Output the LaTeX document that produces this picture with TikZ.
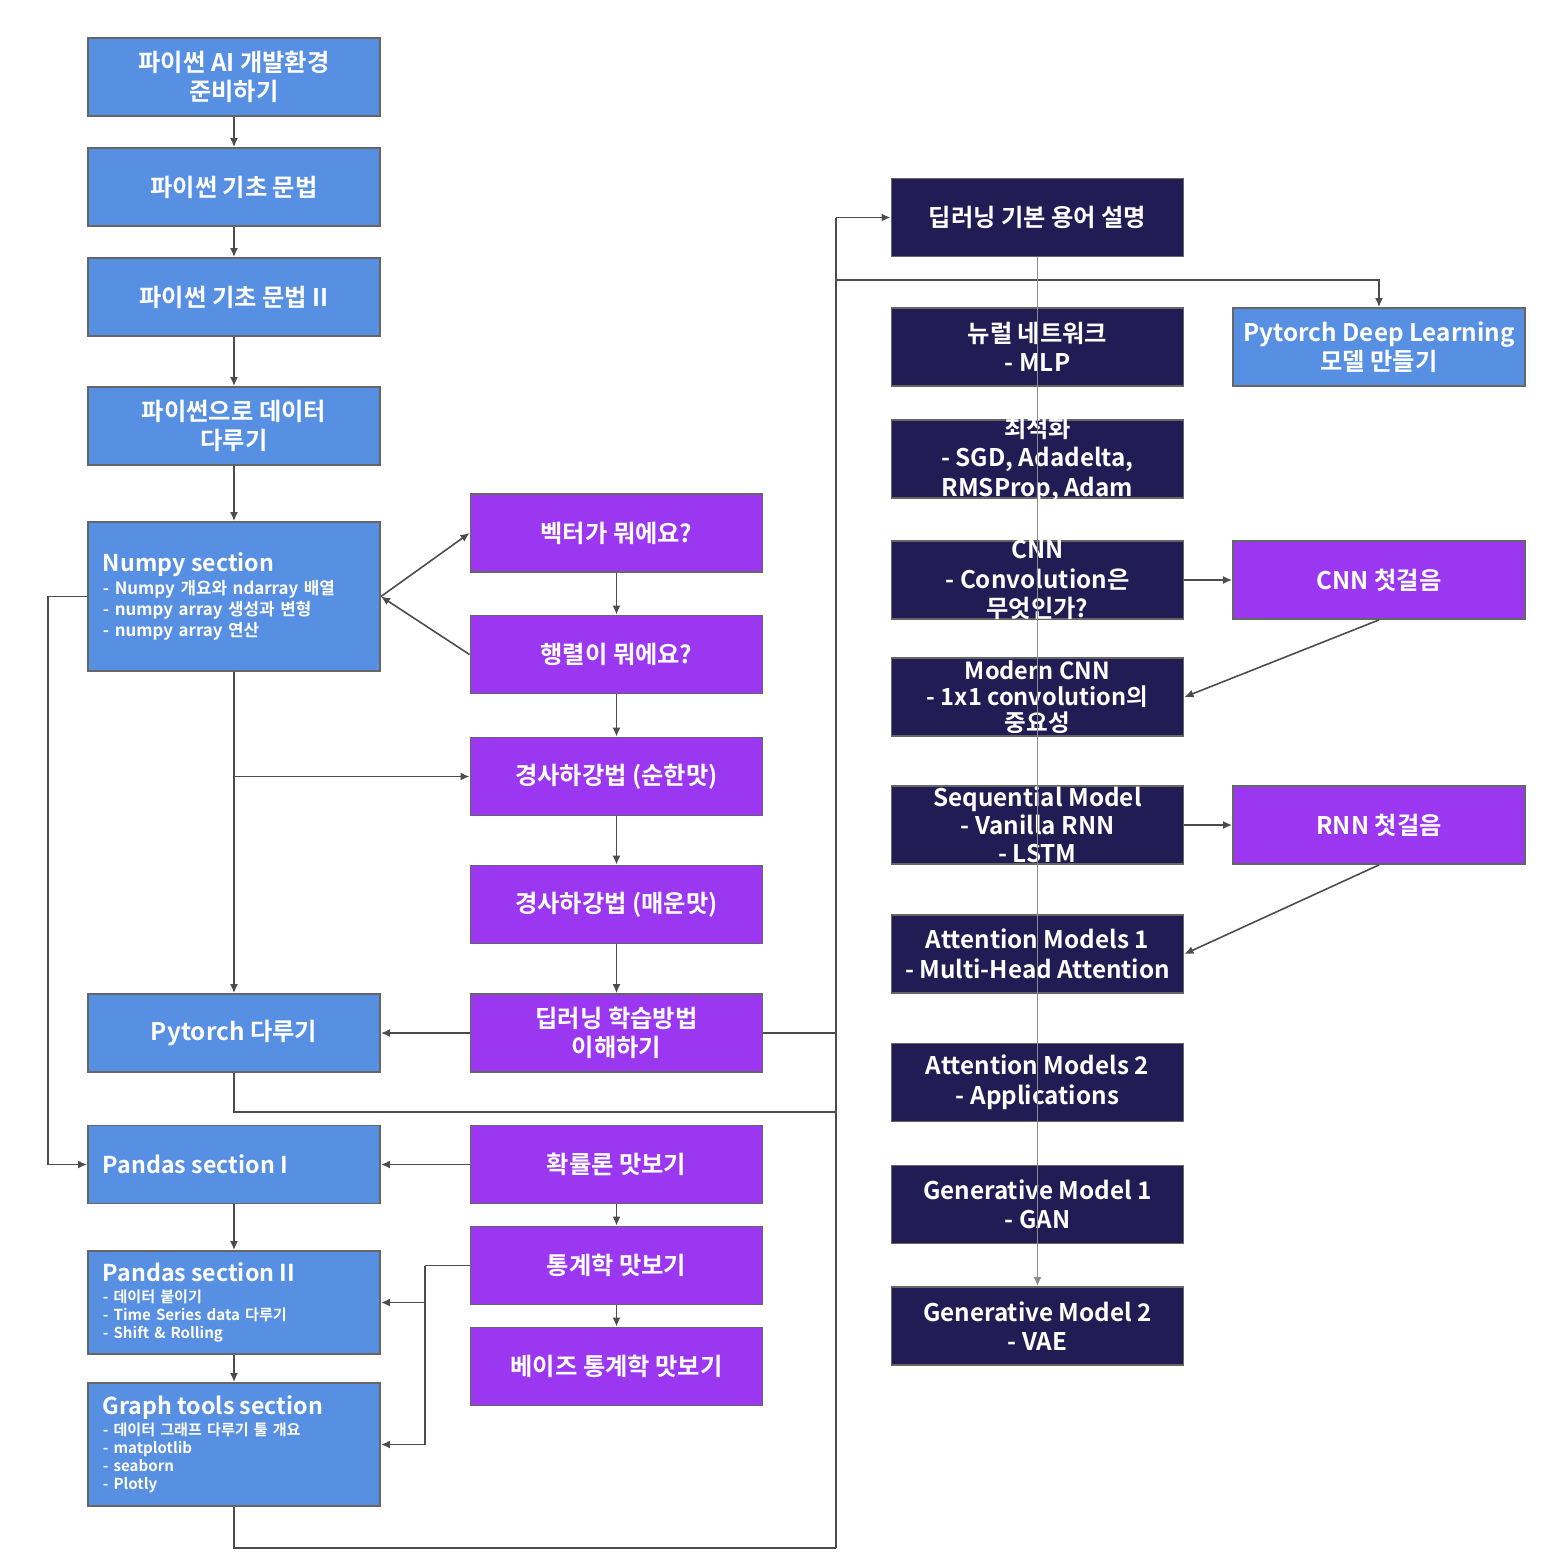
\documentclass[tikz,border=0pt]{standalone}
\usepackage{fontspec}
\setmainfont{Noto Sans CJK KR}[BoldFont={Noto Sans CJK KR Bold}]
\usepackage{tikz}
\usetikzlibrary{arrows.meta}

\definecolor{boxblue}{HTML}{578FE2}
\definecolor{boxpurple}{HTML}{9B37F0}
\definecolor{boxnavy}{HTML}{221C54}

\newcommand{\sectitle}[1]{{\fontsize{6.6}{8}\selectfont #1}}

\tikzset{
  box/.style={minimum width=2.92cm, minimum height=0.78cm, inner sep=0pt,
    draw=black!60, line width=0.5pt, text=white, align=center,
    font=\fontsize{6.9}{8.4}\selectfont\bfseries},
  bluebox/.style={box, fill=boxblue},
  purplebox/.style={box, fill=boxpurple},
  navybox/.style={box, fill=boxnavy},
  listbox/.style={bluebox, text width=2.62cm, inner xsep=0.15cm, align=left,
    font=\fontsize{4.8}{6}\selectfont\bfseries},
  smalllist/.style={font=\fontsize{4.3}{5.1}\selectfont\bfseries},
  boxtext/.style={text=white, align=center, inner sep=0pt,
    font=\fontsize{6.9}{8.4}\selectfont\bfseries},
  link/.style={draw=black!70, line width=0.45pt},
  arr/.style={link, -{Latex[length=0.9mm,width=0.8mm]}},
}

\begin{document}
\begin{tikzpicture}[x=0.01cm, y=-0.01cm]
\useasboundingbox (0,0) rectangle (1562,1566);

% left column
\node[bluebox] (env) at (234,77) {파이썬 AI 개발환경\\준비하기};
\node[bluebox] (basic) at (234,187) {파이썬 기초 문법};
\node[bluebox] (basicII) at (234,297) {파이썬 기초 문법 II};
\node[bluebox] (pydata) at (234,426) {파이썬으로 데이터\\다루기};
\node[listbox, minimum height=1.49cm] (numpy) at (234,596.5)
  {\sectitle{Numpy section}\\[0.4pt]- Numpy 개요와 ndarray 배열\\- numpy array 생성과 변형\\- numpy array 연산};
\node[bluebox] (torch) at (234,1033) {Pytorch 다루기};
\node[listbox] (pandasA) at (234,1164.5) {\sectitle{Pandas section I}};
\node[listbox, smalllist, minimum height=1.03cm] (pandasB) at (234,1302.5)
  {\sectitle{Pandas section II}\\[0.8pt]- 데이터 붙이기\\- Time Series data 다루기\\- Shift \& Rolling};
\node[listbox, smalllist, minimum height=1.23cm] (graph) at (234,1444.5)
  {\sectitle{Graph tools section}\\[0.8pt]- 데이터 그래프 다루기 툴 개요\\- matplotlib\\- seaborn\\- Plotly};

% middle column
\node[purplebox] (vector) at (616.5,533) {벡터가 뭐에요?};
\node[purplebox] (matrix) at (616.5,654.5) {행렬이 뭐에요?};
\node[purplebox] (gdmild) at (616.5,776.5) {경사하강법 (순한맛)};
\node[purplebox] (gdhot) at (616.5,904.5) {경사하강법 (매운맛)};
\node[purplebox] (dltrain) at (616.5,1033) {딥러닝 학습방법\\이해하기};
\node[purplebox] (prob) at (616.5,1164.5) {확률론 맛보기};
\node[purplebox] (stat) at (616.5,1265.5) {통계학 맛보기};
\node[purplebox] (bayes) at (616.5,1366.5) {베이즈 통계학 맛보기};

% right column
\node[navybox] (dlterm) at (1037.5,217.5) {딥러닝 기본 용어 설명};
\node[navybox] (mlp) at (1037.5,347) {뉴럴 네트워크\\- MLP};
\node[navybox, label={[boxtext]center:최적화\\- SGD, Adadelta,\\RMSProp, Adam}] (optim) at (1037.5,459) {};
\node[navybox, label={[boxtext]center:CNN\\- Convolution은\\무엇인가?}] (cnn) at (1037.5,580) {};
\node[navybox, label={[boxtext, font=\fontsize{6.7}{7.3}\selectfont\bfseries]center:Modern CNN\\- 1x1 convolution의\\중요성}] (mcnn) at (1037.5,697) {};
\node[navybox, label={[boxtext, font=\fontsize{6.9}{8}\selectfont\bfseries]center:Sequential Model\\- Vanilla RNN\\- LSTM}] (seq) at (1037.5,825) {};
\node[navybox] (att1) at (1037.5,954) {Attention Models 1\\- Multi-Head Attention};
\node[navybox] (att2) at (1037.5,1082.5) {Attention Models 2\\- Applications};
\node[navybox] (gen1) at (1037.5,1204.5) {Generative Model 1\\- GAN};
\node[navybox] (gen2) at (1037.5,1326) {Generative Model 2\\- VAE};

\node[bluebox] (ptdl) at (1379,347) {Pytorch Deep Learning\\모델 만들기};
\node[purplebox] (cnnfirst) at (1379,580) {CNN 첫걸음};
\node[purplebox] (rnnfirst) at (1379,825) {RNN 첫걸음};

% junctions
\coordinate (leftBus) at (48,596.5);
\coordinate (mildJoin) at (234,776.5);
\coordinate (statJoin) at (425,1265.5);
\coordinate (busTop) at (836,217.5);
\coordinate (busBot) at (836,1548);
\coordinate (ptdlJoin) at (836,280);
\coordinate (torchJoin) at (836,1112);
\coordinate (trainJoin) at (836,1033);

% left column links
\draw[arr] (env.south) -- (basic.north);
\draw[arr] (basic.south) -- (basicII.north);
\draw[arr] (basicII.south) -- (pydata.north);
\draw[arr] (pydata.south) -- (numpy.north);
\draw[arr] (numpy.south) -- (torch.north);
\draw[arr] (mildJoin) -- (gdmild.west);
\draw[arr] (numpy.west) -- (leftBus) |- (pandasA.west);
\draw[arr] (pandasA.south) -- (pandasB.north);
\draw[arr] (pandasB.south) -- (graph.north);

% middle column links
\draw[arr] (numpy.east) -- (vector.west);
\draw[arr] (matrix.west) -- (numpy.east);
\draw[arr] (vector.south) -- (matrix.north);
\draw[arr] (matrix.south) -- (gdmild.north);
\draw[arr] (gdmild.south) -- (gdhot.north);
\draw[arr] (gdhot.south) -- (dltrain.north);
\draw[arr] (dltrain.west) -- (torch.east);
\draw[arr] (prob.west) -- (pandasA.east);
\draw[arr] (prob.south) -- (stat.north);
\draw[arr] (stat.south) -- (bayes.north);
\draw[link] (stat.west) -- (statJoin);
\draw[arr] (statJoin) |- (pandasB.east);
\draw[arr] (statJoin) |- (graph.east);

% bus to the right column
\draw[link] (dltrain.east) -- (trainJoin);
\draw[link] (torch.south) |- (torchJoin);
\draw[link] (graph.south) |- (busBot);
\draw[link] (busBot) -- (busTop);
\draw[arr] (busTop) -- (dlterm.west);
\draw[arr] (ptdlJoin) -| (ptdl.north);

% right column links
\draw[arr] (cnn.east) -- (cnnfirst.west);
\draw[arr] (cnnfirst.south) -- (mcnn.east);
\draw[arr] (seq.east) -- (rnnfirst.west);
\draw[arr] (rnnfirst.south) -- (att1.east);
\draw[arr, draw=black!45] (dlterm.south) -- (gen2.north);

\end{tikzpicture}
\end{document}
